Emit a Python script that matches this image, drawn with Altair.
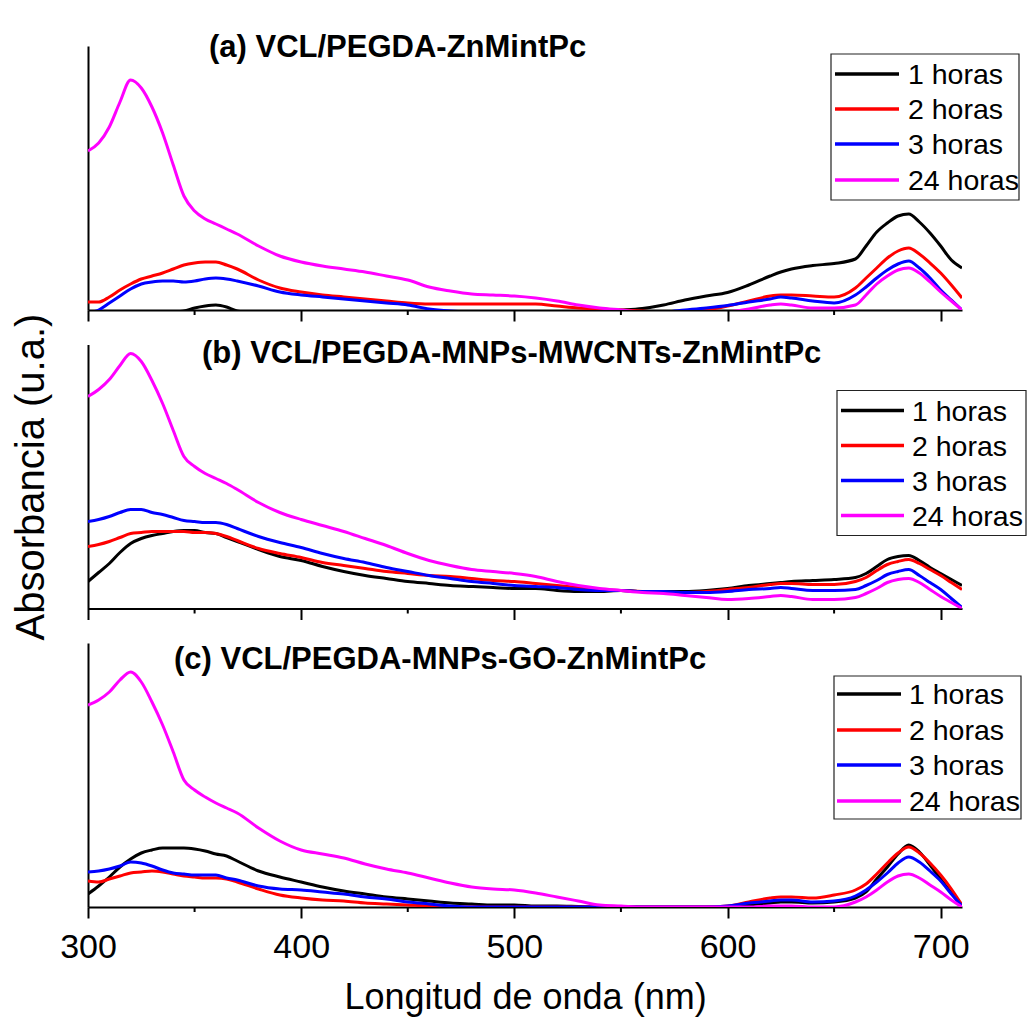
import altair as alt
import pandas as pd

# ---------------- data (arbitrary units) ----------------
WL = [300, 305, 310, 315, 320, 325, 330, 335, 340, 345, 350, 355, 360, 365, 370,
      380, 390, 400, 410, 420, 430, 440, 450, 460, 470, 480, 490, 500, 510, 520,
      530, 540, 550, 560, 570, 580, 590, 600, 610,
      620, 625, 630, 640, 650, 660,
      665, 670, 675, 680, 685, 690, 695, 700, 705, 710]

SERIES = ["1 horas", "2 horas", "3 horas", "24 horas"]
COLORS = ["#000000", "#FF0000", "#0000FF", "#FF00FF"]

TITLES = ["(a) VCL/PEGDA-ZnMintPc",
          "(b) VCL/PEGDA-MNPs-MWCNTs-ZnMintPc",
          "(c) VCL/PEGDA-MNPs-GO-ZnMintPc"]

# panel (a) VCL/PEGDA-ZnMintPc
A_1H = [-5, -5, -5, -5, -5, -4, -4, -3, -2, -1, 2, 4, 5, 3, -1,
        -3, -3, -3, -3, -3, -3, -3, -3, -3, -3, -3, -3, -3, -3, -3,
        -2, -1, 0, 1.5, 5, 10, 14, 17.5, 25,
        34, 38, 41, 44.5, 46.5, 51,
        64, 78, 87, 94, 96, 88, 77, 64, 50, 42]
A_2H = [8, 8, 13, 20, 26, 31, 34, 37, 41, 45, 47, 48, 48, 45, 41,
        30, 22, 18, 15, 13, 11, 9, 7, 6, 6, 6, 6, 6, 6, 4,
        2, 1, 0, -1, -2, -2, 0, 4, 9,
        14, 15, 15, 14, 13, 22,
        32, 42, 52, 59, 62, 56, 47, 37, 25, 12]
A_3H = [-3, 0, 7, 14, 21, 26, 28, 29, 29, 28, 29, 31, 32, 31, 29,
        24, 18, 15, 13, 11, 9, 7, 5, 1, -1, -2, -2, -2, -2, -2,
        -2, -2, -2, -2, -2, 0, 2, 4.5, 8,
        11, 13, 12, 9, 7, 15,
        23, 32, 40, 46, 49, 42, 32, 20, 10, 0]
A_24H = [159, 167, 183, 208, 230, 222, 203, 177, 145, 114, 99, 91, 86, 81, 76,
         64, 54, 48, 44, 41, 38, 34, 30, 23, 19, 16, 15, 14, 12, 9,
         5, 2, 0, -2, -3, -3, -3, -2, 1,
         5, 6, 5, 2, 2, 5,
         15, 26, 34, 40, 42, 37, 28, 18, 9, 0]

# panel (b) VCL/PEGDA-MNPs-MWCNTs-ZnMintPc
B_1H = [27, 36, 45, 56, 65, 70, 73, 75, 77, 78, 78, 76, 75, 71, 67,
        59, 52, 48, 42, 37, 33, 30, 27, 25, 23, 22, 21, 20, 20, 18,
        17, 17, 18, 17, 17, 17, 18, 20, 23,
        25, 26, 27, 28, 29, 31,
        35, 42, 49, 52, 53, 48, 41, 35, 29, 23]
B_2H = [62, 64, 67, 71, 75, 76, 77, 77, 77, 77, 76, 76, 75, 72, 68,
        60, 55, 51, 46, 43, 40, 37, 35, 33, 32, 30, 28, 27, 25, 23,
        21, 19, 18, 17, 16, 16, 17, 19, 21,
        24, 25, 25, 24, 24, 27,
        31, 38, 44, 47, 49, 45, 39, 33, 26, 19]
B_3H = [87, 89, 92, 96, 99, 99, 96, 94, 91, 88, 87, 86, 86, 84, 80,
        72, 66, 61, 55, 50, 46, 41, 37, 33, 30, 27, 25, 23, 22, 21,
        19, 18, 18, 17, 17, 16, 16, 17, 19,
        20, 21, 20, 18, 18, 19,
        23, 28, 34, 37, 39, 33, 26, 19, 10, 1]
B_24H = [212, 219, 229, 243, 255, 247, 228, 205, 178, 152, 142, 135, 130, 125, 119,
         106, 96, 89, 83, 77, 70, 63, 55, 48, 43, 39, 37, 35, 32, 27,
         23, 20, 18, 16, 15, 13, 11, 9, 10,
         12, 13, 12, 9, 9, 11,
         15, 20, 26, 29, 30, 26, 19, 12, 6, 0]

# panel (c) VCL/PEGDA-MNPs-GO-ZnMintPc
C_1H = [13, 21, 30, 40, 48, 54, 57, 59, 59, 59, 58, 56, 53, 51, 46,
        36, 30, 25, 20, 16, 13, 10, 8, 6, 4, 3, 2, 2, 1, 1,
        0.5, 0, 0, 0, 0, 0, 0, 0, 2,
        4, 5, 5, 4, 5, 9,
        15, 28, 40, 53, 62, 55, 42, 28, 14, 1]
C_2H = [26, 25, 28, 31, 34, 35, 36, 35, 33, 31, 30, 29, 29, 28, 25,
        18, 12, 9, 7, 6, 4, 3, 2, 1, 0.5, 0, 0, 0, 0, 0,
        0, 0, 0, 0, 0, 0, 0, 1, 5,
        9, 10, 10, 9, 12, 17,
        23, 33, 44, 54, 60, 54, 44, 32, 18, 2]
C_3H = [35, 36, 38, 41, 45, 44, 41, 37, 34, 33, 32, 32, 32, 29, 27,
        21, 18, 17, 15, 13, 10, 8, 5, 3, 1, 0, 0, 0, 0, 0,
        0, 0, 0, 0, 0, 0, 0, 1, 4,
        6, 7, 7, 5, 6, 11,
        17, 25, 34, 44, 50, 45, 36, 26, 13, 1]
C_24H = [202, 207, 215, 227, 235, 225, 205, 182, 155, 127, 117, 110, 104, 99, 94,
         79, 66, 57, 53, 49, 43, 38, 34, 29, 24, 20, 18, 17, 14, 10,
         6, 2, 1, 0, 0, 0, 0, 0, 0,
         1, 1, 1, 0, 0, 5,
         10, 17, 25, 31, 33, 29, 22, 15, 7, 0]

PANELS = [[A_1H, A_2H, A_3H, A_24H],
          [B_1H, B_2H, B_3H, B_24H],
          [C_1H, C_2H, C_3H, C_24H]]

MAJOR_TICKS = [300, 400, 500, 600, 700]
MINOR_TICKS = [350, 450, 550, 650]
X_DOMAIN = [300, 710]
Y_DOMAIN = [0, 264]

# ---------------- layout / style ----------------
FONT = "Liberation Sans"
W, H = 874, 264

# per-panel placement of the in-plot title and the boxed legend (pixels in plot)
LAYOUT = [
    dict(tx=121, ty=11, box=(743, 931, 8, 154), rows=[28, 63, 98, 134], lx=(747, 811), ltx=820),
    dict(tx=114, ty=18, box=(749, 938, 46, 191), rows=[66, 101, 136, 171], lx=(753, 816), ltx=824),
    dict(tx=86, ty=26, box=(746, 933, 33, 176), rows=[51, 87, 122, 158], lx=(749, 813), ltx=821),
]

color_scale = alt.Scale(domain=SERIES, range=COLORS)


def make_panel(idx):
    vals = PANELS[idx]
    lay = LAYOUT[idx]
    bottom = idx == 2
    middle = idx == 1

    rows = []
    for s, series_vals in zip(SERIES, vals):
        for w, v in zip(WL, series_vals):
            rows.append({"wl": w, "absb": v, "serie": s})
    df = pd.DataFrame(rows)

    if bottom:
        xaxis = alt.Axis(values=MAJOR_TICKS, tickSize=11, tickWidth=2, tickColor="black",
                         domainColor="black", domainWidth=2, grid=False,
                         labelFontSize=34, labelFont=FONT, labelColor="black",
                         labelPadding=12, labelFlush=False,
                         title="Longitud de onda (nm)", titleFontSize=36,
                         titleFont=FONT, titleFontWeight="normal", titleColor="black",
                         titlePadding=16)
    else:
        xaxis = alt.Axis(values=MAJOR_TICKS, tickSize=11, tickWidth=2, tickColor="black",
                         domainColor="black", domainWidth=2, grid=False,
                         labels=False, title=None)

    if middle:
        yaxis = alt.Axis(ticks=False, labels=False, grid=False, domainColor="black",
                         domainWidth=2, title="Absorbancia (u.a.)", titleFontSize=40,
                         titleFont=FONT, titleFontWeight="normal", titleColor="black",
                         titlePadding=37)
    else:
        yaxis = alt.Axis(ticks=False, labels=False, grid=False, domainColor="black",
                         domainWidth=2, title=None)

    lines = alt.Chart(df).mark_line(clip=True, strokeWidth=3, interpolate="monotone").encode(
        x=alt.X("wl:Q", scale=alt.Scale(domain=X_DOMAIN, nice=False, zero=False), axis=xaxis),
        y=alt.Y("absb:Q", scale=alt.Scale(domain=Y_DOMAIN, nice=False), axis=yaxis),
        color=alt.Color("serie:N", scale=color_scale, legend=None),
        order=alt.Order("wl:Q"),
    )

    minor = alt.Chart(pd.DataFrame({"wl": MINOR_TICKS})).mark_rule(
        color="black", strokeWidth=2).encode(
        x="wl:Q", y=alt.value(H), y2=alt.value(H + 5))

    title = alt.Chart(pd.DataFrame({"t": [TITLES[idx]]})).mark_text(
        align="left", baseline="alphabetic", font=FONT, fontSize=31,
        fontWeight="bold", color="black").encode(
        x=alt.value(lay["tx"]), y=alt.value(lay["ty"]), text="t:N")

    bx1, bx2, by1, by2 = lay["box"]
    box = alt.Chart(pd.DataFrame({"k": [0]})).mark_rect(
        fill="white", fillOpacity=0, stroke="#222222", strokeWidth=1.2).encode(
        x=alt.value(bx1), x2=alt.value(bx2), y=alt.value(by1), y2=alt.value(by2))

    layers = [lines, minor, title, box]
    for s, ry in zip(SERIES, lay["rows"]):
        ldf = pd.DataFrame({"serie": [s]})
        layers.append(alt.Chart(ldf).mark_rule(strokeWidth=3.5).encode(
            x=alt.value(lay["lx"][0]), x2=alt.value(lay["lx"][1]), y=alt.value(ry),
            color=alt.Color("serie:N", scale=color_scale, legend=None)))
        layers.append(alt.Chart(ldf).mark_text(
            align="left", baseline="middle", font=FONT, fontSize=28.5, color="black").encode(
            x=alt.value(lay["ltx"]), y=alt.value(ry + 1), text="serie:N"))

    return alt.layer(*layers).properties(width=W, height=H)


chart = alt.vconcat(make_panel(0), make_panel(1), make_panel(2),
                    spacing=34.5, bounds="flush").properties(
    padding={"left": 10, "top": 32, "right": 0, "bottom": 5},
    background="white",
).configure_view(strokeOpacity=0)

chart.save("out.html", embed_options={"renderer": "svg", "actions": False})
